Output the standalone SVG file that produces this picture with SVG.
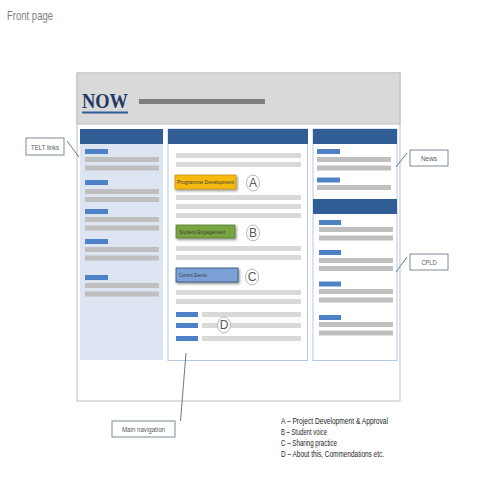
<svg xmlns="http://www.w3.org/2000/svg" width="480" height="480" viewBox="0 0 480 480">
<style>
  .hdr { fill: #2F5D94; }
  .blu { fill: #4F81C7; }
  .gry { fill: #BFBFBF; }
  .lgr { fill: #D9D9D9; }
  .col { fill: #FFFFFF; stroke: #B4C7E7; stroke-width: 1; }
  .lbl { fill: #FFFFFF; stroke: #7F8A99; stroke-width: 1; }
  .lt { font-family: "Liberation Sans", Arial, sans-serif; font-size: 8px; fill: #595959; text-anchor: middle; }
  .bt { font-family: "Liberation Sans", Arial, sans-serif; font-size: 6px; fill: #3A3A3A; }
  .circ { fill: #FFFFFF; stroke: #A6A6A6; stroke-width: 0.8; }
  .ct { font-family: "Liberation Sans", Arial, sans-serif; font-size: 12px; fill: #595959; text-anchor: middle; }
  .leg { font-family: "Liberation Sans", Arial, sans-serif; font-size: 9px; fill: #262626; }
  .conn { stroke: #5B6B80; stroke-width: 0.9; fill: none; }
</style>
<defs>
  <filter id="sh" x="-20%" y="-30%" width="140%" height="170%">
    <feDropShadow dx="1.2" dy="1.5" stdDeviation="0.8" flood-color="#000" flood-opacity="0.45"/>
  </filter>
</defs>
<rect width="480" height="480" fill="#FFFFFF"/>
<text x="7" y="20" font-family="'Liberation Sans', Arial, sans-serif" font-size="13" fill="#7F7F7F" textLength="46" lengthAdjust="spacingAndGlyphs">Front page</text>

<g id="page-frame">
  <rect x="77" y="73" width="323" height="328" fill="#FFFFFF" stroke="#BFBFBF" stroke-width="1"/>
</g>

<g id="header">
  <rect x="77" y="73" width="323" height="51" fill="#D9D9D9" stroke="#BFBFBF" stroke-width="1"/>
  <text x="82" y="108" font-family="'Liberation Serif', 'Times New Roman', serif" font-weight="bold" font-size="21" fill="#1F3864" textLength="46" lengthAdjust="spacingAndGlyphs">NOW</text>
  <rect x="82" y="111.5" width="46" height="2" fill="#2F5D94"/>
  <rect x="139" y="99" width="126" height="5" fill="#7F7F7F"/>
</g>

<g id="left-column">
  <rect x="80" y="129" width="83" height="231" fill="#DCE5F1"/>
  <rect class="hdr" x="80" y="129" width="83" height="15"/>
  <rect class="blu" x="85" y="149" width="23" height="5"/>
  <rect class="gry" x="85" y="157" width="74" height="5"/>
  <rect class="gry" x="85" y="165.5" width="74" height="5"/>
  <rect class="blu" x="85" y="180" width="23" height="5"/>
  <rect class="gry" x="85" y="189" width="74" height="5"/>
  <rect class="gry" x="85" y="197" width="74" height="5"/>
  <rect class="blu" x="85" y="209" width="23" height="5"/>
  <rect class="gry" x="85" y="217" width="74" height="5"/>
  <rect class="gry" x="85" y="225.5" width="74" height="5"/>
  <rect class="blu" x="85" y="239" width="23" height="5"/>
  <rect class="gry" x="85" y="247" width="74" height="5"/>
  <rect class="gry" x="85" y="255.5" width="74" height="5"/>
  <rect class="blu" x="85" y="275" width="23" height="5"/>
  <rect class="gry" x="85" y="283" width="74" height="5"/>
  <rect class="gry" x="85" y="291.5" width="74" height="5"/>
</g>

<g id="middle-column">
  <rect class="col" x="168" y="129" width="139.5" height="231.5"/>
  <rect class="hdr" x="168" y="129" width="140" height="15"/>
  <rect class="lgr" x="176" y="153" width="125" height="5"/>
  <rect class="lgr" x="176" y="162" width="125" height="5"/>
  <rect class="lgr" x="176" y="195" width="125" height="5"/>
  <rect class="lgr" x="176" y="204" width="125" height="5"/>
  <rect class="lgr" x="176" y="213" width="125" height="5"/>
  <rect class="lgr" x="176" y="246" width="125" height="5"/>
  <rect class="lgr" x="176" y="255" width="125" height="5"/>
  <rect class="lgr" x="176" y="290" width="125" height="5"/>
  <rect class="lgr" x="176" y="299" width="125" height="5"/>
  <rect class="blu" x="176" y="312" width="22" height="5"/>
  <rect class="lgr" x="202" y="312" width="99" height="5"/>
  <rect class="blu" x="176" y="323" width="22" height="5"/>
  <rect class="lgr" x="202" y="323" width="99" height="5"/>
  <rect class="blu" x="176" y="336" width="22" height="5"/>
  <rect class="lgr" x="202" y="336" width="99" height="5"/>
</g>

<g id="programme-development">
  <rect x="175" y="175" width="61" height="14" fill="#F6B90C" stroke="#C99512" stroke-width="0.8" filter="url(#sh)"/>
  <text class="bt" x="177" y="184.2" textLength="57" lengthAdjust="spacingAndGlyphs">Programme Development</text>
</g>
<g id="circle-a">
  <ellipse class="circ" cx="253" cy="183" rx="6.5" ry="8"/>
  <text class="ct" x="253" y="187.3">A</text>
</g>

<g id="student-engagement">
  <rect x="176" y="225" width="59" height="13" fill="#78A443" stroke="#587D2E" stroke-width="0.8" filter="url(#sh)"/>
  <text class="bt" x="179" y="233.7" textLength="46" lengthAdjust="spacingAndGlyphs">Student Engagement</text>
</g>
<g id="circle-b">
  <ellipse class="circ" cx="253" cy="233" rx="6.5" ry="8"/>
  <text class="ct" x="253" y="237.3">B</text>
</g>

<g id="current-events">
  <rect x="176" y="268" width="62" height="14" fill="#7CA1D6" stroke="#3D5A80" stroke-width="0.9" filter="url(#sh)"/>
  <text class="bt" x="179" y="276.8" textLength="28" lengthAdjust="spacingAndGlyphs">Current Events</text>
</g>
<g id="circle-c">
  <ellipse class="circ" cx="252" cy="277" rx="6.5" ry="8"/>
  <text class="ct" x="252" y="281.3">C</text>
</g>

<g id="circle-d">
  <ellipse class="circ" cx="224" cy="325" rx="6.5" ry="8"/>
  <text class="ct" x="224" y="329.3">D</text>
</g>

<g id="right-column">
  <rect class="col" x="313" y="129" width="84" height="231.5"/>
  <rect class="hdr" x="313" y="129" width="84" height="15"/>
  <rect class="blu" x="317" y="149" width="23" height="5"/>
  <rect class="gry" x="317" y="157" width="74" height="5"/>
  <rect class="gry" x="317" y="165.5" width="74" height="5"/>
  <rect class="blu" x="317" y="177.5" width="23" height="5"/>
  <rect class="gry" x="317" y="185" width="74" height="5"/>
  <rect class="hdr" x="313" y="199" width="84" height="15"/>
  <rect class="blu" x="319" y="220" width="22" height="5"/>
  <rect class="gry" x="319" y="227" width="74" height="5"/>
  <rect class="gry" x="319" y="235.5" width="74" height="5"/>
  <rect class="blu" x="319" y="250" width="22" height="5"/>
  <rect class="gry" x="319" y="258" width="74" height="5"/>
  <rect class="gry" x="319" y="266" width="74" height="5"/>
  <rect class="blu" x="319" y="281.5" width="22" height="5"/>
  <rect class="gry" x="319" y="289" width="74" height="5"/>
  <rect class="gry" x="319" y="297.5" width="74" height="5"/>
  <rect class="blu" x="319" y="315" width="22" height="5"/>
  <rect class="gry" x="319" y="322" width="74" height="5"/>
  <rect class="gry" x="319" y="330.5" width="74" height="5"/>
</g>

<g id="connectors">
  <line class="conn" x1="67" y1="141" x2="79" y2="157"/>
  <line class="conn" x1="396" y1="167" x2="407" y2="153"/>
  <line class="conn" x1="396" y1="272" x2="407" y2="257"/>
  <line class="conn" x1="186" y1="353" x2="180.5" y2="421"/>
</g>

<g id="telt-links">
  <rect class="lbl" x="26" y="138" width="38" height="17"/>
  <text class="lt" x="45" y="149.5" textLength="28" lengthAdjust="spacingAndGlyphs">TELT links</text>
</g>
<g id="news">
  <rect class="lbl" x="410" y="150" width="38" height="16"/>
  <text class="lt" x="429" y="161" textLength="16" lengthAdjust="spacingAndGlyphs">News</text>
</g>
<g id="cpld">
  <rect class="lbl" x="410" y="254" width="38" height="16"/>
  <text class="lt" x="429" y="265" textLength="15" lengthAdjust="spacingAndGlyphs">CPLD</text>
</g>
<g id="main-navigation">
  <rect class="lbl" x="112" y="421" width="63" height="16"/>
  <text class="lt" x="143.5" y="432" textLength="43" lengthAdjust="spacingAndGlyphs">Main navigation</text>
</g>

<g id="legend">
  <text class="leg" x="281" y="423.5" textLength="107" lengthAdjust="spacingAndGlyphs">A – Project Development &amp; Approval</text>
  <text class="leg" x="281" y="434.5" textLength="46" lengthAdjust="spacingAndGlyphs">B – Student voice</text>
  <text class="leg" x="281" y="445.5" textLength="56" lengthAdjust="spacingAndGlyphs">C – Sharing practice</text>
  <text class="leg" x="281" y="456.5" textLength="103" lengthAdjust="spacingAndGlyphs">D – About this, Commendations etc.</text>
</g>
</svg>
